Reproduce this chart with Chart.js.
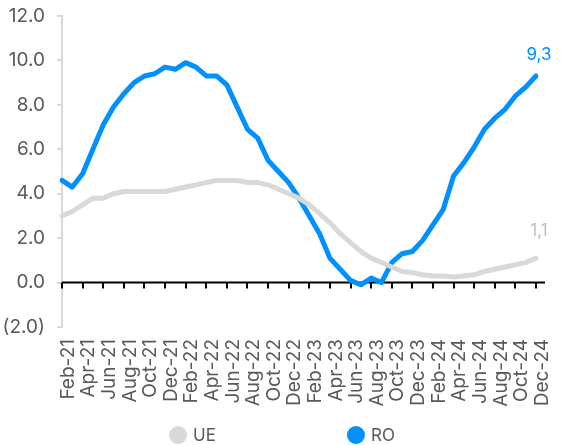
<!doctype html>
<html lang="ro">
<head>
<meta charset="UTF-8">
<title>UE vs RO</title>
<script src="https://cdn.jsdelivr.net/npm/chart.js"></script>
<style>
  body { margin: 0; background: #fff; }
  .wrap { width: 564px; height: 445px; position: relative; }
</style>
</head>
<body>
<div class="wrap"><canvas id="chart"></canvas></div>
<script>
const months = [
  'Feb-21', 'Mar-21', 'Apr-21', 'May-21', 'Jun-21', 'Jul-21', 'Aug-21', 'Sep-21', 'Oct-21', 'Nov-21', 'Dec-21',
  'Jan-22', 'Feb-22', 'Mar-22', 'Apr-22', 'May-22', 'Jun-22', 'Jul-22', 'Aug-22', 'Sep-22', 'Oct-22', 'Nov-22', 'Dec-22',
  'Jan-23', 'Feb-23', 'Mar-23', 'Apr-23', 'May-23', 'Jun-23', 'Jul-23', 'Aug-23', 'Sep-23', 'Oct-23', 'Nov-23', 'Dec-23',
  'Jan-24', 'Feb-24', 'Mar-24', 'Apr-24', 'May-24', 'Jun-24', 'Jul-24', 'Aug-24', 'Sep-24', 'Oct-24', 'Nov-24', 'Dec-24'
];
const ueValues = [
  3.0, 3.2, 3.5, 3.8, 3.8, 4.0, 4.1, 4.1, 4.1, 4.1, 4.1,
  4.2, 4.3, 4.4, 4.5, 4.6, 4.6, 4.6, 4.5, 4.5, 4.4, 4.2, 4.0,
  3.8, 3.5, 3.1, 2.7, 2.2, 1.8, 1.4, 1.1, 0.9, 0.7, 0.5, 0.45,
  0.35, 0.3, 0.3, 0.25, 0.3, 0.35, 0.5, 0.6, 0.7, 0.8, 0.9, 1.1
];
const roValues = [
  4.6, 4.3, 4.9, 6.0, 7.1, 7.9, 8.5, 9.0, 9.3, 9.4, 9.7,
  9.6, 9.9, 9.7, 9.3, 9.3, 8.9, 7.9, 6.9, 6.5, 5.5, 5.0, 4.5,
  3.8, 3.0, 2.2, 1.1, 0.6, 0.1, -0.1, 0.2, 0.0, 0.9, 1.3, 1.4,
  1.9, 2.6, 3.3, 4.8, 5.4, 6.1, 6.9, 7.4, 7.8, 8.4, 8.8, 9.3
];
const seriesNames = ['UE', 'RO'];
const yMin = -2;
const yMax = 12;
const yStep = 2;

const FONT = "'Inter', 'Noto Sans', sans-serif";
const GREY = '#d9d9d9';
const BLUE = '#0090ff';
const TEXT = '#595959';

// black axis at y = 0 with tick marks every 2 months
const zeroAxis = {
  id: 'zeroAxis',
  beforeDatasetsDraw(chart) {
    const { ctx, scales: { x, y } } = chart;
    const y0 = y.getPixelForValue(0);
    ctx.save();
    ctx.strokeStyle = '#000';
    ctx.lineWidth = 2;
    ctx.beginPath();
    ctx.moveTo(x.left, y0);
    ctx.lineTo(x.right + 9, y0);
    for (let i = 0; i < months.length; i += 2) {
      const px = Math.round(x.getPixelForValue(i));
      ctx.moveTo(px, y0);
      ctx.lineTo(px, y0 + 6);
    }
    ctx.stroke();
    ctx.restore();
  }
};

// last value above each line
const endLabels = {
  id: 'endLabels',
  afterDatasetsDraw(chart, args, opts) {
    const { ctx } = chart;
    ctx.save();
    ctx.font = `17px ${FONT}`;
    ctx.textAlign = 'center';
    ctx.textBaseline = 'middle';
    chart.data.datasets.forEach((ds, i) => {
      const meta = chart.getDatasetMeta(i);
      const pt = meta.data[meta.data.length - 1];
      const v = ds.data[ds.data.length - 1];
      ctx.fillStyle = opts.colors[i];
      ctx.fillText(v.toFixed(1).replace('.', ','), pt.x + 3, pt.y - opts.offsets[i]);
    });
    ctx.restore();
  }
};

// wide-spaced legend at the bottom
const bottomLegend = {
  id: 'bottomLegend',
  afterDraw(chart, args, opts) {
    const { ctx, width, height } = chart;
    ctx.save();
    ctx.font = `17px ${FONT}`;
    ctx.textBaseline = 'middle';
    const items = chart.data.datasets.map(ds => ({ text: ds.label, color: ds.borderColor }));
    const r = 9;
    const widths = items.map(it => 2 * r + 6 + ctx.measureText(it.text).width);
    const total = widths.reduce((a, b) => a + b, 0) + opts.gap * (items.length - 1);
    let x = width / 2 - total / 2;
    const cy = height - opts.bottom;
    items.forEach((it, i) => {
      ctx.fillStyle = it.color;
      ctx.beginPath();
      ctx.arc(x + r, cy, r, 0, Math.PI * 2);
      ctx.fill();
      ctx.fillStyle = TEXT;
      ctx.fillText(it.text, x + 2 * r + 6, cy + 1);
      x += widths[i] + opts.gap;
    });
    ctx.restore();
  }
};

new Chart(document.getElementById('chart'), {
  type: 'line',
  data: {
    labels: months,
    datasets: [
      { label: seriesNames[0], data: ueValues, borderColor: GREY, backgroundColor: GREY },
      { label: seriesNames[1], data: roValues, borderColor: BLUE, backgroundColor: BLUE }
    ]
  },
  options: {
    responsive: true,
    maintainAspectRatio: false,
    animation: false,
    layout: { padding: { left: 0, right: 28, top: 16, bottom: 0 } },
    elements: {
      line: { borderWidth: 5, tension: 0, borderCapStyle: 'round', borderJoinStyle: 'round' },
      point: { radius: 0, hoverRadius: 0 }
    },
    scales: {
      x: {
        type: 'category',
        offset: false,
        grid: { display: false },
        border: { display: false },
        afterFit: s => { s.height = 118; },
        ticks: {
          autoSkip: false,
          maxRotation: 90,
          minRotation: 90,
          padding: 4,
          labelOffset: 6,
          color: TEXT,
          font: { family: FONT, size: 19 },
          callback: (v, i) => (i % 2 === 0 ? months[i] : null)
        }
      },
      y: {
        min: yMin,
        max: yMax,
        afterFit: s => { s.width = 62; s.paddingTop = 0; s.paddingBottom = 0; },
        grid: { drawOnChartArea: false, color: GREY, lineWidth: 2, tickLength: 5 },
        border: { color: GREY, width: 2 },
        ticks: {
          stepSize: yStep,
          padding: 12,
          color: TEXT,
          font: { family: FONT, size: 19 },
          callback: v => (v < 0 ? `(${Math.abs(v).toFixed(1)})` : v.toFixed(1))
        }
      }
    },
    plugins: {
      legend: { display: false },
      tooltip: { enabled: false },
      endLabels: { colors: [ '#bfbfbf', BLUE ], offsets: [ 27, 21 ] },
      bottomLegend: { gap: 131, bottom: 10 }
    }
  },
  plugins: [zeroAxis, endLabels, bottomLegend]
});
</script>
</body>
</html>
